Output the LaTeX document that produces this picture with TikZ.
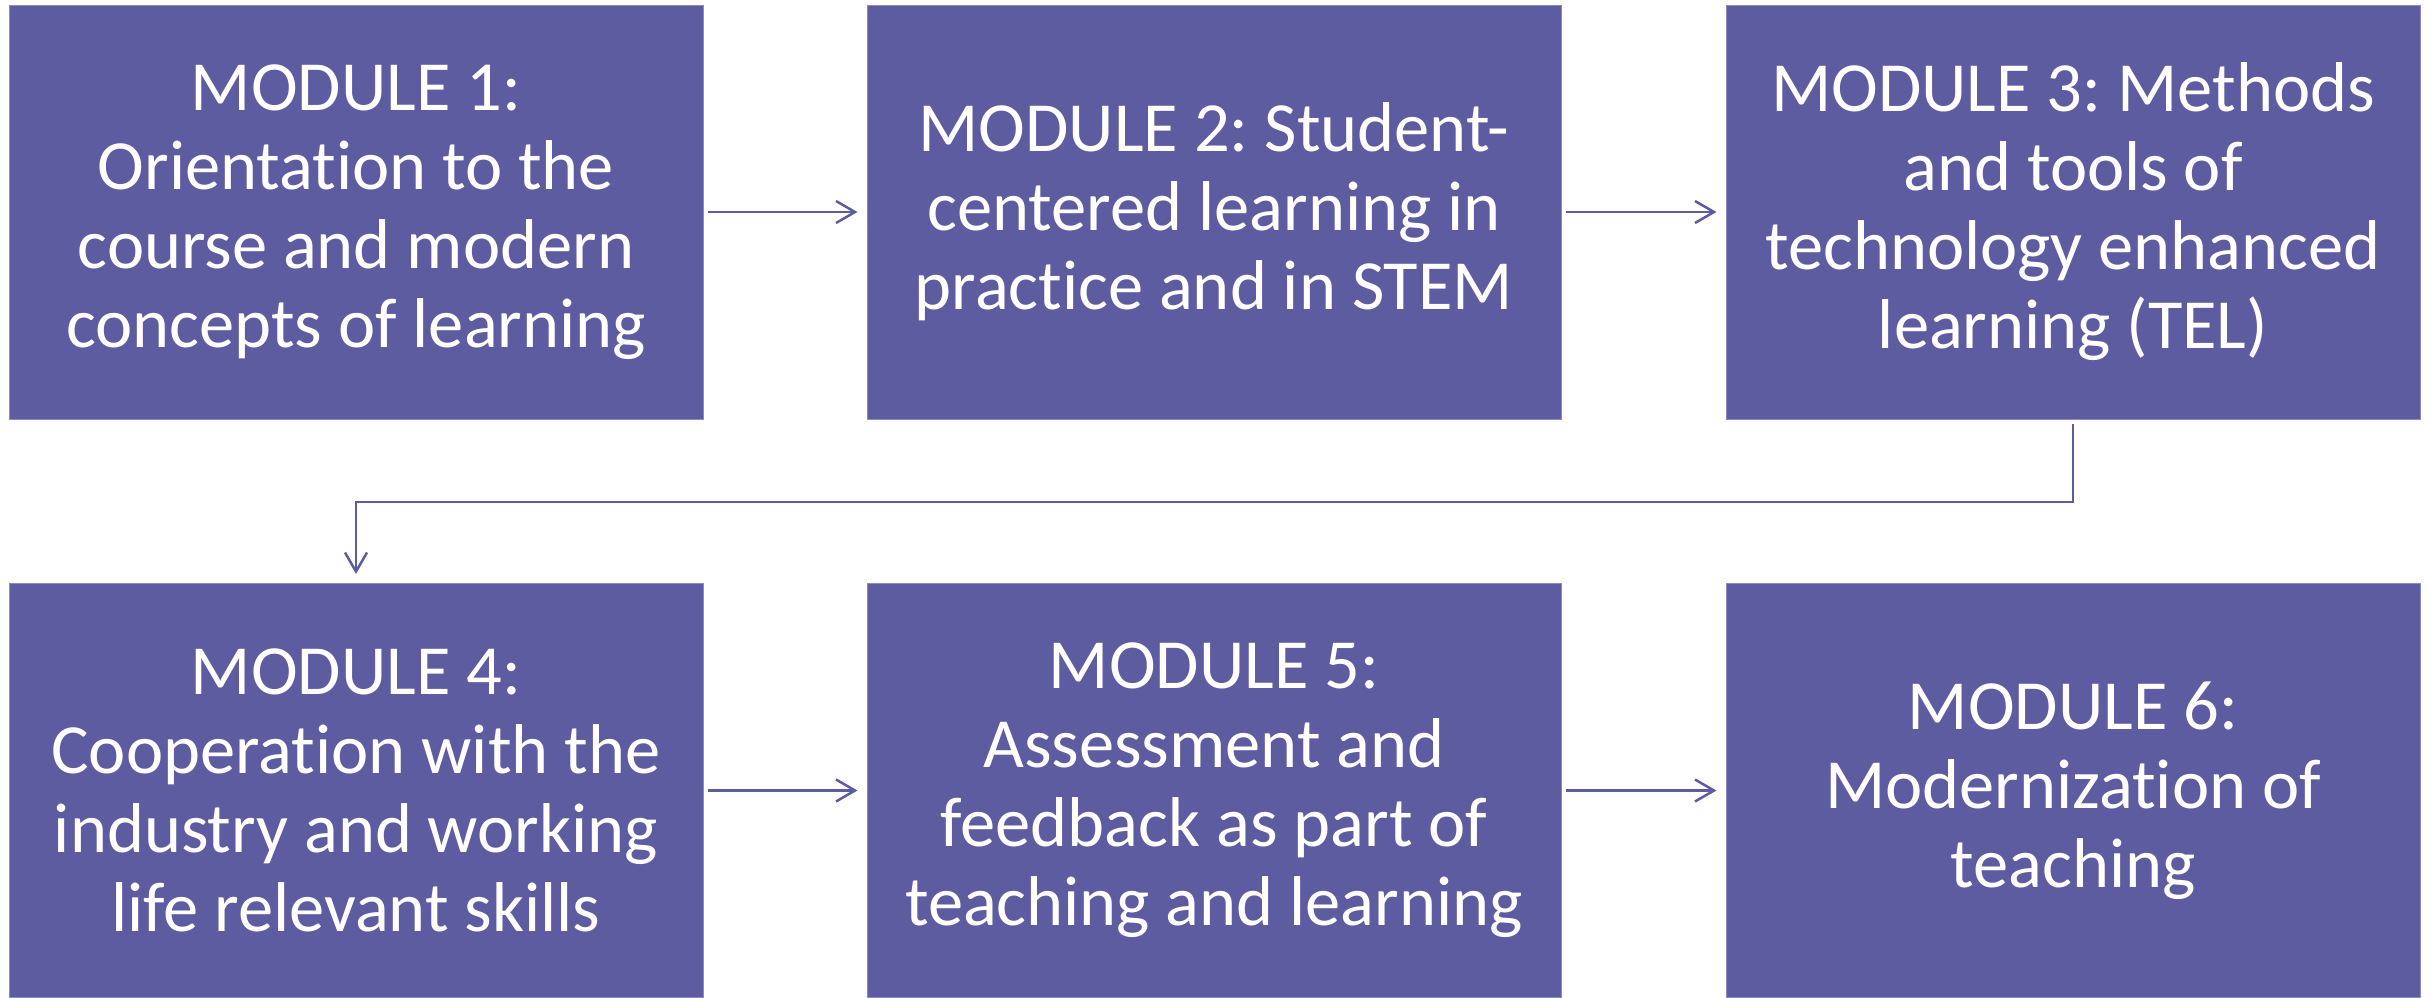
\documentclass[tikz,border=0pt]{standalone}
\usepackage{fontspec}
\setmainfont{Carlito}[Ligatures=NoCommon]
\usetikzlibrary{arrows.meta}
\definecolor{modfill}{HTML}{5E5CA0}
\definecolor{modedge}{HTML}{8C8AC0}
\tikzset{
  modbox/.style={draw=modedge, line width=1pt, fill=modfill, text=white,
    minimum width=694pt, minimum height=414pt, inner sep=0pt, align=center,
    font=\fontsize{70.5}{79}\selectfont},
  conn/.style={draw=modfill, line width=2.5pt, -{Straight Barb[length=19pt,width=22pt,line width=2.5pt]}}
}
\frenchspacing
\begin{document}
\begin{tikzpicture}[x=1pt,y=1pt]
\useasboundingbox (0,0) rectangle (2430,-997);
\node[modbox] (b1) at (356,-212) {MODULE 1:\\Orientation to the\\course and modern\\concepts of learning};
\node[modbox] (b2) at (1214,-212) {MODULE 2: Student-\\centered learning in\\practice and in STEM};
\node[modbox] (b3) at (2073,-212) {MODULE 3: Methods\\and tools of\\technology enhanced\\learning (TEL)};
\node[modbox] (b4) at (356,-790.5) {MODULE 4:\\Cooperation with the\\industry and working\\life relevant skills};
\node[modbox] (b5) at (1214,-790.5) {MODULE 5:\\Assessment and\\feedback as part of\\teaching and learning};
\node[modbox] (b6) at (2073,-790.5) {MODULE 6:\\Modernization of\\teaching};
\coordinate (elbow) at (0,-502);
\draw[conn, shorten <=4pt, shorten >=9pt] (b1.east) -- (b2.west);
\draw[conn, shorten <=4pt, shorten >=9pt] (b2.east) -- (b3.west);
\draw[conn, shorten <=4pt, shorten >=9pt] (b4.east) -- (b5.west);
\draw[conn, shorten <=4pt, shorten >=9pt] (b5.east) -- (b6.west);
\draw[conn, shorten <=4pt, shorten >=9pt] (b3.south) -- (b3.south |- elbow) -- (b4.north |- elbow) -- (b4.north);
\end{tikzpicture}
\end{document}
